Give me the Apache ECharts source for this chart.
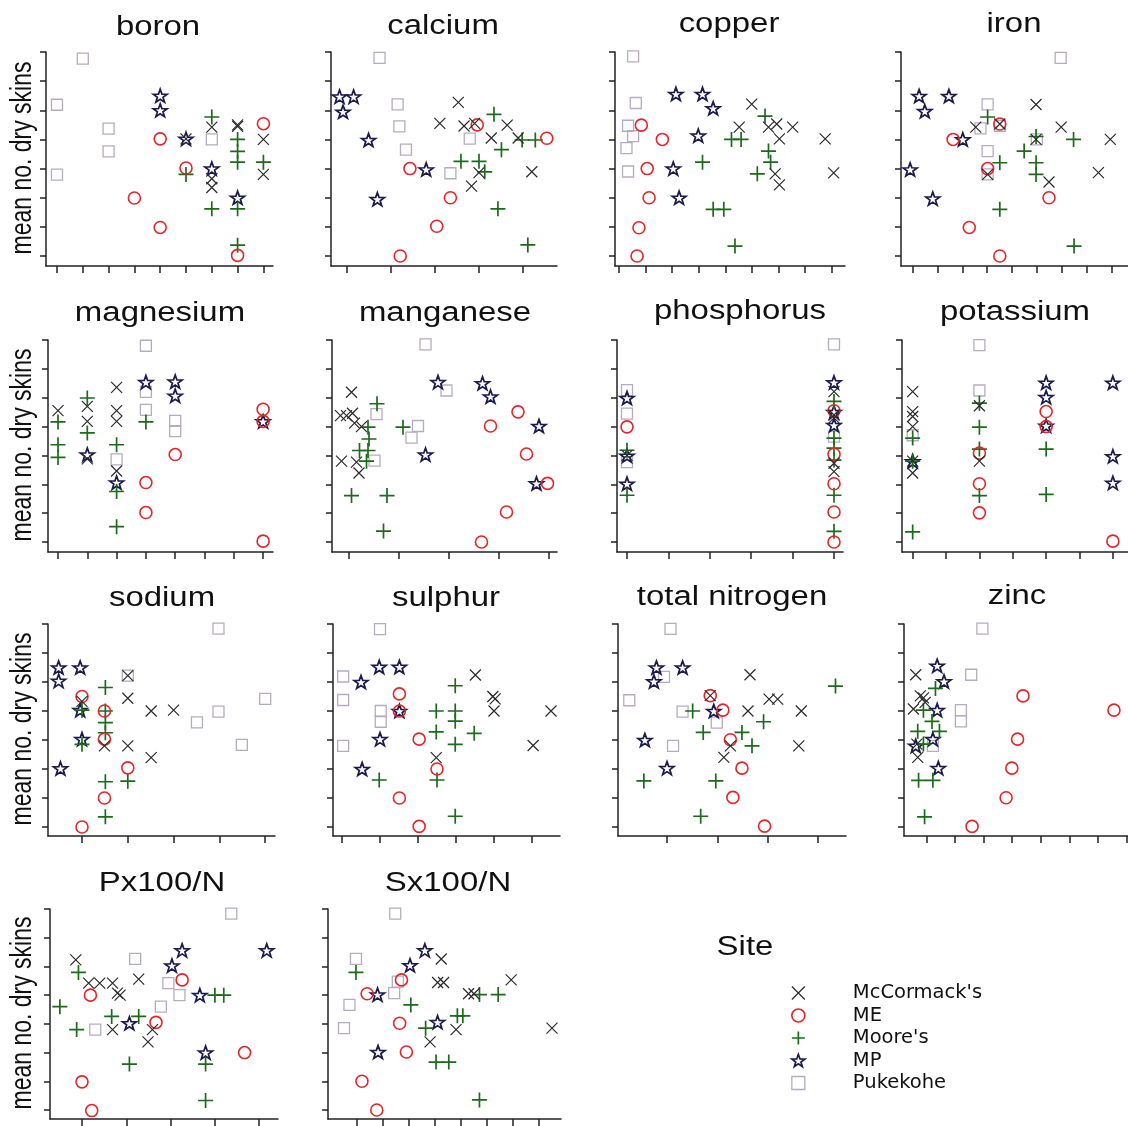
<!DOCTYPE html>
<html>
<head>
<meta charset="utf-8">
<script src="https://cdn.jsdelivr.net/npm/echarts@6/dist/echarts.min.js"></script>
<style>
html,body{margin:0;padding:0;background:#fff;}
#chart{width:1128px;height:1126px;}
</style>
</head>
<body>
<div id="chart"></div>
<script>
// ---------------- DATA (x, y in tick units; ticks at 0,1,2,...) ----------------
const sites = ["McCormack's", "ME", "Moore's", "MP", "Pukekohe"];
const panelNames = ['boron','calcium','copper','iron','magnesium','manganese','phosphorus','potassium','sodium','sulphur','total nitrogen','zinc','Px100/N','Sx100/N'];
const xTickCounts = [9,5,9,9,8,5,6,7,5,6,4,8,5,8];
const yTickValues = [0,1,2,3,4,5,6,7];
const yAxisTitle = 'mean no. dry skins';
const legendTitle = 'Site';

// each panel: [McCormack's, ME, Moore's, MP, Pukekohe]
const boron = [
  [[5,4.02],[6,4.42],[6,2.65],[6,2.35],[7,4.5],[7,4.45],[8,4.0],[8,2.8]],
  [[3,1.99],[4,4.02],[4,0.98],[5,3.02],[7,0.02],[8,4.54]],
  [[5,2.8],[6,4.77],[6,1.62],[7,4.0],[7,3.59],[7,3.22],[7,1.62],[7,0.37],[8,3.22]],
  [[4,5.5],[4,5.0],[5,4.02],[6,3.0],[7,2.0]],
  [[1,6.77],[0,5.19],[2,4.37],[2,3.59],[0,2.79],[6,4.0]]
];
const calcium = [
  [[2.53,5.27],[2.11,4.55],[2.66,4.46],[2.9,4.55],[3.28,4.05],[3.64,4.49],[3.89,4.05],[2.83,2.4],[3.0,2.86],[4.2,2.89]],
  [[1.21,0],[1.43,3.0],[2.04,1.02],[2.35,2.0],[2.96,4.5],[4.54,4.04]],
  [[2.59,3.25],[3.0,3.25],[3.13,2.89],[3.34,4.86],[3.51,3.65],[3.43,1.62],[3.98,3.98],[4.28,3.98],[4.11,0.38]],
  [[-0.17,5.47],[0.15,5.47],[-0.09,4.95],[0.49,3.98],[1.8,2.97],[0.69,1.95]],
  [[0.74,6.8],[1.15,5.2],[1.19,4.45],[1.34,3.65],[2.35,2.84],[2.79,4.03]]
];
const copper = [
  [[4.99,5.21],[4.52,4.42],[5.62,4.42],[5.93,4.53],[6.03,4.02],[6.53,4.42],[7.75,4.02],[5.87,2.82],[6.03,2.44],[8.07,2.85]],
  [[0.84,4.49],[1.63,4.0],[1.06,3.0],[1.13,2.0],[0.75,0.97],[0.68,0]],
  [[4.23,4.0],[4.59,4.0],[5.49,4.8],[5.62,3.6],[5.7,3.22],[5.2,2.82],[3.14,3.22],[3.54,1.6],[3.94,1.6],[4.36,0.34]],
  [[2.14,5.56],[3.14,5.56],[3.54,5.07],[2.98,4.13],[2.04,3.0],[2.26,2.0]],
  [[0.53,6.85],[0.63,5.25],[0.34,4.47],[0.53,4.11],[0.28,3.7],[0.34,2.9]]
];
const iron = [
  [[2.54,4.42],[3.51,4.53],[3.02,2.8],[4.97,5.2],[4.97,4.0],[5.49,2.54],[5.98,4.42],[7.48,2.86],[7.96,4.0]],
  [[1.63,4.0],[3.02,3.0],[3.51,4.53],[5.49,2.0],[2.28,0.98],[3.51,0]],
  [[3.02,4.77],[3.51,3.2],[4.49,3.6],[4.97,4.1],[4.97,3.2],[4.97,2.8],[3.51,1.6],[6.48,4.0],[6.5,0.34]],
  [[0.26,5.49],[0.49,4.97],[1.46,5.49],[2.02,4.0],[-0.1,2.97],[0.81,1.97]],
  [[5.96,6.8],[3.02,5.2],[2.73,4.38],[3.02,3.6],[3.02,2.8],[3.51,4.47],[5.0,4.0]]
];
const magnesium = [
  [[0,4.55],[1,4.7],[1,4.18],[1,2.88],[2,5.36],[2,4.55],[2,4.18],[2,2.46]],
  [[3,2.06],[3,1.02],[4,3.03],[7,4.6],[7,4.18],[7,0.03]],
  [[0,4.16],[0,3.37],[0,2.93],[1,4.99],[1,3.78],[2,3.37],[2,1.75],[2,0.53],[3,4.16]],
  [[1,3.03],[2,2.06],[3,5.54],[4,5.56],[4,5.07],[7,4.18]],
  [[3,6.8],[3,5.2],[3,4.58],[4,4.2],[4,3.84],[2,2.86]]
];
const manganese = [
  [[0.05,5.19],[-0.17,4.38],[-0.05,4.38],[0.07,4.46],[0.11,4.12],[0.25,4.0],[-0.15,2.8],[0.15,2.77],[0.2,2.39]],
  [[2.83,4.02],[3.38,4.51],[3.55,3.05],[3.97,2.03],[3.15,1.04],[2.65,0]],
  [[0.56,4.79],[0.38,3.98],[0.4,3.57],[0.21,3.17],[0.38,3.17],[0.35,2.8],[1.08,3.98],[0.05,1.61],[0.76,1.61],[0.69,0.38]],
  [[1.78,5.54],[2.67,5.5],[2.83,5.04],[1.53,3.03],[3.8,4.02],[3.75,2.03]],
  [[1.53,6.85],[1.95,5.25],[0.55,4.43],[1.38,4.02],[1.25,3.62],[0.51,2.82]]
];
const phosphorus = [
  [[0,3.0],[5,5.21],[5,4.4],[5,4.3],[5,2.73],[5,2.44]],
  [[0,3.99],[5,4.55],[5,3.04],[5,2.02],[5,1.04],[5,0]],
  [[0,3.18],[0,1.62],[5,4.87],[5,3.6],[5,3.25],[5,2.84],[5,1.62],[5,0.37]],
  [[0,4.99],[0,2.99],[0,2.02],[5,5.53],[5,4.05],[5,4.5]],
  [[0,5.26],[0,4.45],[0,2.77],[5,6.85],[5,3.65]]
];
const potassium = [
  [[0,5.21],[0,4.52],[0,4.35],[0,4.0],[0,2.8],[0,2.39],[2,4.72],[2,2.8]],
  [[2,3.08],[2,2.02],[2,1.01],[4,4.52],[4,4.0],[6,0.03]],
  [[0,3.6],[0,2.8],[0,0.35],[2,4.81],[2,3.98],[2,3.22],[2,1.61],[4,3.22],[4,1.65]],
  [[0,2.8],[4,5.52],[4,5.02],[4,4.03],[6,5.52],[6,2.97],[6,2.05]],
  [[0,3.7],[2,6.82],[2,5.25]]
];
const sodium = [
  [[0,4.33],[0.49,2.8],[1,5.22],[1,4.44],[1,2.8],[1.51,4.0],[1.51,2.39],[2,4.03]],
  [[0,4.5],[0.49,4.0],[0.49,3.03],[1,2.04],[0.49,1.0],[0,0]],
  [[0,4.03],[0,2.85],[0.51,4.81],[0.51,4.0],[0.51,3.6],[0.51,3.25],[0.51,1.56],[0.51,0.35],[1,1.58]],
  [[-0.51,5.5],[-0.51,5.04],[-0.04,5.5],[-0.04,4.03],[0,3.03],[-0.47,2.02]],
  [[1,5.22],[2.98,6.84],[2.51,3.61],[2.98,3.98],[3.49,2.83],[4,4.42]]
];
const sulphur = [
  [[2.48,2.39],[3.51,5.24],[3.97,4.5],[4.03,4.42],[4.0,4.0],[5.03,2.81],[5.5,4.0]],
  [[1.51,4.59],[1.51,4.0],[2.03,3.03],[2.5,2.0],[1.51,1.0],[2.03,0.02]],
  [[0.98,1.62],[2.48,4.0],[2.48,3.28],[2.5,1.62],[2.98,4.87],[2.98,4.0],[2.98,3.65],[2.98,2.85],[3.48,3.23],[2.98,0.37]],
  [[0.5,5.0],[0.98,5.52],[1.51,5.52],[1.51,4.0],[1.0,3.03],[0.53,2.0]],
  [[1.0,6.82],[0.03,5.19],[0.03,4.38],[1.02,4.0],[1.02,3.63],[0.03,2.8]]
];
const totalNitrogen = [
  [[0.86,4.53],[1.65,5.25],[1.61,4.0],[2.03,4.41],[2.2,4.41],[2.67,4.0],[2.62,2.8],[1.26,2.8],[1.13,2.4]],
  [[0.86,4.53],[1.11,4.03],[1.26,3.01],[1.49,2.03],[1.31,1.02],[1.94,0.03]],
  [[0.51,4.0],[0.72,3.26],[1.49,3.26],[1.69,2.8],[1.92,3.63],[3.35,4.86],[-0.46,1.59],[0.97,1.59],[0.67,0.37]],
  [[-0.21,5.5],[-0.26,5.02],[0.31,5.5],[0.93,4.0],[-0.44,3.0],[0,2.03]],
  [[0.07,6.83],[-0.06,5.18],[-0.75,4.37],[0.31,3.98],[0.99,3.6],[0.12,2.8]]
];
const zinc = [
  [[-0.37,5.25],[-0.21,4.52],[-0.1,4.45],[-0.04,4.3],[-0.45,4.07],[-0.33,2.86],[-0.3,2.4]],
  [[3.38,4.52],[3.19,3.03],[2.99,2.03],[2.79,1.01],[1.6,0.02],[6.56,4.03]],
  [[0.32,4.78],[-0.1,4.03],[0.2,3.64],[-0.3,3.3],[0.46,3.3],[-0.1,2.86],[-0.27,1.61],[0.23,1.61],[-0.06,0.35]],
  [[0.38,5.56],[0.62,5.02],[0.38,4.03],[0.23,3.03],[-0.37,2.8],[0.42,2.03]],
  [[1.96,6.84],[1.57,5.25],[1.21,4.03],[1.21,3.64],[0.23,2.8]]
];
const pxOverN = [
  [[-0.14,5.23],[0.15,4.42],[0.4,4.42],[0.69,4.42],[0.8,4.07],[0.86,4.0],[0.69,2.8],[1.28,4.56],[1.59,2.8],[1.49,2.37]],
  [[0.19,4.0],[0,0.98],[0.22,-0.02],[1.67,3.05],[2.26,4.53],[3.67,2.0]],
  [[-0.5,3.6],[-0.08,4.79],[-0.12,2.8],[0.67,3.26],[1.28,3.26],[1.07,1.6],[2.79,1.6],[2.79,0.33],[3.0,4.0],[3.2,4.0]],
  [[1.07,3.02],[2.03,5.03],[2.26,5.56],[2.66,4.0],[2.79,2.0],[4.17,5.56]],
  [[0.3,2.8],[1.2,5.26],[1.95,4.42],[2.2,4.0],[1.78,3.6],[3.37,6.84]]
];
const sxOverN = [
  [[3.24,5.26],[3.1,4.44],[3.33,4.44],[3.81,2.8],[2.81,2.37],[4.29,4.05],[4.5,4.05],[5.93,4.53],[7.5,2.85]],
  [[0.39,4.05],[1.71,4.53],[1.64,3.02],[1.9,2.02],[0.19,1.0],[0.76,0]],
  [[-0.04,4.79],[2.07,3.66],[2.64,2.85],[3.86,3.28],[4.07,3.28],[3.04,1.67],[3.53,1.67],[4.71,4.02],[5.43,4.02],[4.71,0.35]],
  [[2.61,5.56],[2.04,5.04],[0.79,4.02],[3.1,3.06],[0.81,2.02]],
  [[1.47,6.84],[-0.04,5.26],[1.57,4.47],[1.43,4.07],[-0.29,3.66],[-0.5,2.85]]
];
const panelData = [boron, calcium, copper, iron, magnesium, manganese, phosphorus, potassium, sodium, sulphur, totalNitrogen, zinc, pxOverN, sxOverN];

// ---------------- LAYOUT (pixels) ----------------
// per panel: [axis-corner x, right end x, first x tick x, x tick spacing]
const panelBox = [
  [46,273,57,25.8],[331,557,347,44],[615,845,619,26.6],[901,1135,913,25.6],
  [48,273,58,29.3],[332,557,349,50],[617,843,627,41.4],[902,1135,913,34.4],
  [48,275,82,45.8],[333,560,342,38],[618,846,667,50.3],[904,1135,927,29.5],
  [50,278,82,44.3],[328,561,357,26]
];
// per row: [top tick y, bottom tick y, x-axis y]
const rowBox = [[52,256,266],[340,542,552],[624,827,836],[909,1110,1119]];
const titlePos = [[158,28],[443,27],[729,25],[1014,25],[160,314],[445,314],[740,312],[1015,313],[162,599],[446,599],[732,598],[1017,597],[162,884],[448,884]];
const yTitleY = [158,445,729,1013];

// ---------------- STYLE ----------------
const STAR = 'path://M50,0L61.76,33.82L97.55,34.55L69.02,56.18L79.39,90.45L50,70L20.61,90.45L30.98,56.18L2.45,34.55L38.24,33.82Z';
const siteSymbol = ['path://M0,0L10,10M10,0L0,10', 'circle', 'path://M0,5L10,5M5,0L5,10', STAR, 'rect'];
const siteColor = ['#2a2a2a', '#e3262b', '#1d6a1d', '#1b1b4d', '#b6acbf'];
const siteSize = [[11,11],[12,12],[15,15],[14,13],[11,11]];
const siteStroke = [1.2, 1.6, 1.7, 1.7, 1.3];

const axisColor = '#222';
const grids = [], xAxes = [], yAxes = [], series = [], graphics = [];

panelNames.forEach(function (name, i) {
  const pb = panelBox[i];
  const rb = rowBox[Math.floor(i / 4)];
  const ySp = (rb[1] - rb[0]) / 7;
  grids.push({ left: pb[0], top: rb[0], width: pb[1] - pb[0], height: rb[2] - rb[0], containLabel: false });
  const xTicks = [];
  for (let k = 0; k < xTickCounts[i]; k++) xTicks.push(k);
  xAxes.push({
    type: 'value', gridIndex: i,
    min: -(pb[2] - pb[0]) / pb[3], max: (pb[1] - pb[2]) / pb[3],
    axisLine: { show: true, onZero: false, lineStyle: { color: axisColor, width: 1.5 } },
    axisTick: { show: true, inside: false, length: 7, customValues: xTicks, lineStyle: { color: axisColor, width: 1.5 } },
    axisLabel: { show: false }, splitLine: { show: false }
  });
  yAxes.push({
    type: 'value', gridIndex: i,
    min: -(rb[2] - rb[1]) / ySp, max: 7,
    axisLine: { show: true, onZero: false, lineStyle: { color: axisColor, width: 1.5 } },
    axisTick: { show: true, inside: false, length: 6, customValues: yTickValues, lineStyle: { color: axisColor, width: 1.5 } },
    axisLabel: { show: false }, splitLine: { show: false }
  });
  panelData[i].forEach(function (pts, s) {
    series.push({
      type: 'scatter', name: sites[s], xAxisIndex: i, yAxisIndex: i,
      data: pts, symbol: siteSymbol[s], symbolSize: siteSize[s], clip: false, silent: true,
      itemStyle: { color: 'transparent', borderColor: siteColor[s], borderWidth: siteStroke[s], opacity: 1 },
      z: 2 + (4 - s)
    });
  });
  graphics.push({
    type: 'text', x: titlePos[i][0], y: titlePos[i][1], scaleX: 1.22, silent: true,
    style: { text: name, font: '27px "Liberation Sans", Arial, sans-serif', fill: '#111', align: 'center', verticalAlign: 'middle' }
  });
});

yTitleY.forEach(function (yy) {
  graphics.push({
    type: 'text', x: 23, y: yy, rotation: Math.PI / 2, scaleY: 1.25, silent: true,
    style: { text: yAxisTitle, font: '23px "Liberation Sans", Arial, sans-serif', fill: '#111', align: 'center', verticalAlign: 'middle' }
  });
});
graphics.push({
  type: 'text', x: 745, y: 948, scaleX: 1.22, silent: true,
  style: { text: legendTitle, font: '27px "Liberation Sans", Arial, sans-serif', fill: '#111', align: 'center', verticalAlign: 'middle' }
});

const chart = echarts.init(document.getElementById('chart'), null, { renderer: 'canvas' });
chart.setOption({
  animation: false,
  backgroundColor: '#ffffff',
  grid: grids, xAxis: xAxes, yAxis: yAxes, series: series,
  graphic: graphics,
  legend: {
    orient: 'vertical', left: 786, top: 978, itemWidth: 13, itemHeight: 13, itemGap: 2.5,
    selectedMode: false,
    data: sites.map(function (s, k) {
      return { name: s, icon: siteSymbol[k], itemStyle: { color: 'transparent', borderColor: siteColor[k], borderWidth: siteStroke[k] } };
    }),
    textStyle: { fontFamily: 'DejaVu Sans', fontSize: 19.5, color: '#111', lineHeight: 13, padding: [0, 0, 0, 43] }
  }
});
</script>
</body>
</html>
